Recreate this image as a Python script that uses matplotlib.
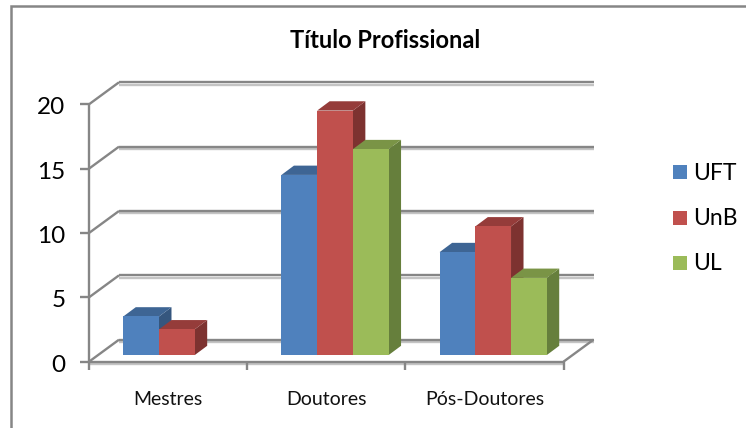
import numpy as np
import matplotlib
matplotlib.use("Agg")
import matplotlib.pyplot as plt
from matplotlib.lines import Line2D
from matplotlib.patches import Rectangle

# dados
categorias = ["Mestres", "Doutores", "Pós-Doutores"]
series = ["UFT", "UnB", "UL"]
uft = [3, 14, 8]
unb = [2, 19, 10]
ul = [0, 16, 6]
y_ticks = [0, 5, 10, 15, 20]

cores = ["#4F81BD", "#C0504D", "#9BBB59"]
cores_topo = ["#3E6594", "#953C3A", "#7A9446"]
cores_lado = ["#35567E", "#7D3230", "#667F3C"]

plt.rcParams["font.family"] = ["Lato", "DejaVu Sans"]

W, H = 746, 428
fig = plt.figure(figsize=(W / 100, H / 100), dpi=100)
x0, x1 = 89, 563.5
y0, y1 = 361.7, 104.3
ax = fig.add_axes([x0 / W, 1 - y0 / H, (x1 - x0) / W, (y0 - y1) / H])
ax.set_xlim(0, 3)
ax.set_ylim(0, 20)
ax.axis("off")

# deslocamento da perspectiva em unidades de dados
px_x = 3 / (x1 - x0)
px_y = 20 / (y0 - y1)
prof_x, prof_y = 30 * px_x, 22 * px_y
bar_x, bar_y = 12.5 * px_x, 9.3 * px_y
base_x, base_y = 8.75 * px_x, 6.6 * px_y
largura = 35.7 * px_x
cinza = "#868686"
sombra = "#C4C4C4"
lw = 1.7


def linha(xs, ys, cor=cinza, z=1, w=lw):
    ax.plot(xs, ys, color=cor, lw=w, zorder=z, clip_on=False, solid_capstyle="butt")


# grade e paredes
for v in y_ticks:
    linha([prof_x, 3 + prof_x], [v + prof_y - 0.18] * 2, sombra)
    linha([prof_x, 3 + prof_x], [v + prof_y] * 2)
    linha([0, prof_x], [v, v + prof_y])
    linha([-9 * px_x, 0], [v, v])
linha([3, 3 + prof_x], [0, prof_y])
linha([0, 0], [0, 20], z=2)
linha([0, 3], [-0.18, -0.18], sombra, z=2)
linha([0, 3], [0, 0], z=2)
for i in range(4):
    linha([i, i], [0, -8 * px_y], z=2)

# barras
valores = [uft, unb, ul]
z = 3
for c in range(len(categorias)):
    inicio = c + (1 - 3 * largura) / 2 + base_x
    for s in range(len(series)):
        v = valores[s][c]
        if v == 0:
            continue
        xa = inicio + s * largura
        xb = xa + largura
        topo = v + base_y
        # a base da barra fica sobre o piso, deslocada para o fundo
        ax.fill([xb, xb + bar_x, xb + bar_x, xb],
                [base_y, base_y + bar_y, topo + bar_y, topo],
                color=cores_lado[s], lw=0, zorder=z, clip_on=False)
        ax.fill([xa, xa + bar_x, xb + bar_x, xb],
                [topo, topo + bar_y, topo + bar_y, topo],
                color=cores_topo[s], lw=0, zorder=z, clip_on=False)
        ax.bar(xa, v, width=largura, bottom=base_y, align="edge", color=cores[s],
               lw=0, zorder=z, clip_on=False)
        z += 1

# textos
for v in y_ticks:
    ax.text(-23.5 * px_x, v - 10 * px_y, str(v), ha="right", va="baseline", fontsize=17.5, color="black")
for i, nome in enumerate(categorias):
    ax.text(i + 0.5, -43 * px_y, nome, ha="center", va="baseline", fontsize=14, color="#111111")

fig.text(385.5 / W, 1 - 47.5 / H, "Título Profissional", ha="center", va="baseline",
         fontsize=17, fontweight="bold", color="black")

# legenda
leg_y = [172, 218, 263]
leg_base = [180, 225, 270.5]
for nome, cor, yy, b in zip(series, cores, leg_y, leg_base):
    fig.add_artist(Rectangle((673 / W, 1 - (yy + 7) / H), 14 / W, 14 / H,
                             transform=fig.transFigure, color=cor, lw=0))
    fig.text(693 / W, 1 - b / H, nome, ha="left", va="baseline",
             fontsize=16.5, color="black")

# moldura
fig.add_artist(Line2D([10.5 / W, 10.5 / W, 1], [0, 1 - 6 / H, 1 - 6 / H],
                      color="#868686", lw=1.8, transform=fig.transFigure,
                      solid_joinstyle="miter"))

fig.savefig("out.png", dpi=100, facecolor="white")
